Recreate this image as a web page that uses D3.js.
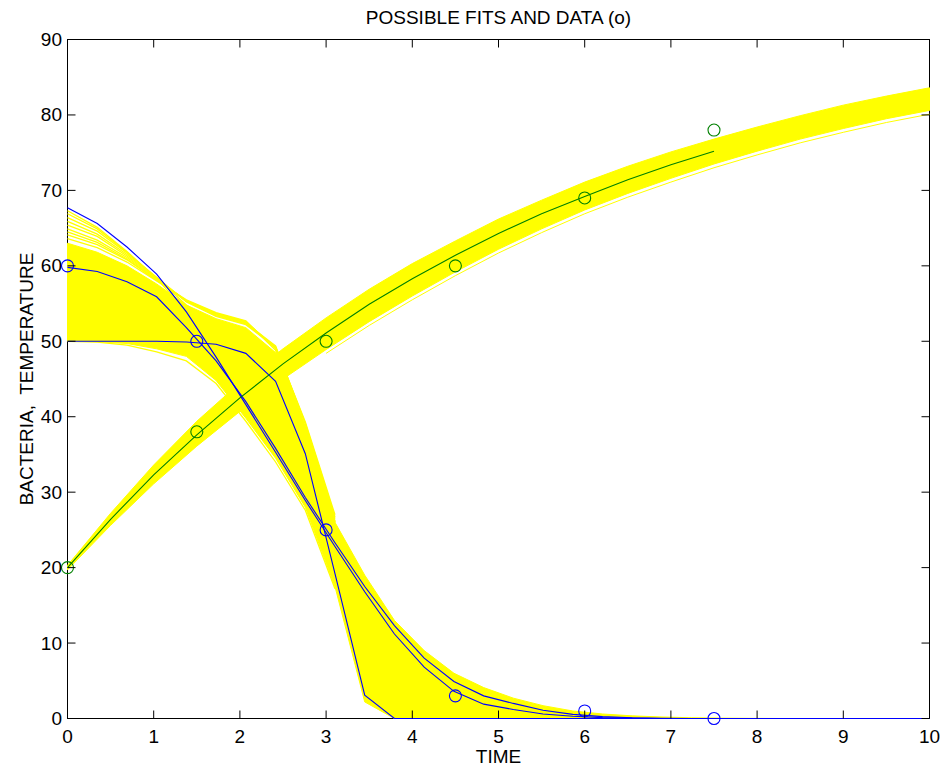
<!DOCTYPE html>
<html><head><meta charset="utf-8">
<script src="https://cdn.jsdelivr.net/npm/d3@7"></script>
<style>
body{margin:0;background:#fff;}
svg{display:block;}
text{font-family:"Liberation Sans",Arial,Helvetica,sans-serif;fill:#000;}
</style>
</head><body>
<svg id="chart" width="943" height="768"></svg>
<script>
// ---------- data ----------
const titleText = "POSSIBLE FITS AND DATA (o)";
const xLabelText = "TIME";
const yLabelText = "BACTERIA,  TEMPERATURE";
const xTicks = [0,1,2,3,4,5,6,7,8,9,10];
const yTicks = [0,10,20,30,40,50,60,70,80,90];

// observed data (circles)
const dataTime = [0, 1.5, 3, 4.5, 6, 7.5];
const bacteriaData = [60, 50, 25, 3, 1, 0];
const temperatureData = [20, 38, 50, 60, 69, 78];

// time grid of the bacteria fits
const timeGrid = [0,0.345,0.69,1.034,1.379,1.724,2.069,2.414,2.759,3.103,3.448,3.793,4.138,4.483,4.828,5.172,5.517,5.862,6.207,6.552,6.897,7.241,7.586,7.931,8.276,8.621,8.966,9.31,9.655,10];

// three blue bacteria fits
const bacteriaFitA = [67.7,65.6,62.5,58.9,53.9,47.9,41.6,35.3,28.9,22.8,16.8,11.2,6.8,3.6,1.9,1.2,0.6,0.3,0.12,0.05,0,0,0,0,0,0,0,0,0,0];
const bacteriaFitB = [59.8,59.25,57.9,55.9,51.8,47.4,42.0,35.8,29.3,23.3,17.5,12.3,8.0,4.9,3.0,2.0,1.1,0.55,0.25,0.1,0.04,0,0,0,0,0,0,0,0,0];
const bacteriaFitC = [50,50,50,50,49.9,49.6,48.4,44.7,35.1,19.2,3.1,0,0,0,0,0,0,0,0,0,0,0,0,0,0,0,0,0,0,0];

// yellow envelope of the possible bacteria fits
const bacteriaBandUpper = [63.0,61.8,60.0,57.6,54.8,53.0,51.8,48.5,38.5,26.0,19.0,13.0,9.0,6.0,4.1,2.7,1.7,1.0,0.6,0.35,0.2,0.1,0.05,0.02,0,0,0,0,0,0];
const bacteriaBandLower = [50.0,49.95,49.7,49.0,48.0,44.8,39.8,34.5,28.0,17.5,2.2,0,0,0,0,0,0,0,0,0,0,0,0,0,0,0,0,0,0,0];

// individual outer possible bacteria fits (first 10 grid points)
const bacteriaFringe1 = [67.3,65.1,61.9,58.3,54.0,49.0,43.5,37.0,30.5,24.5];
const bacteriaFringe2 = [66.9,64.9,61.8,58.4,54.8,52.2,50.5,47.0,38.0,26.0];
const bacteriaFringe3 = [66.4,64.6,61.7,58.5,55.2,53.3,52.2,49.2,39.3,27.0];
const bacteriaFringe4 = [65.9,64.2,61.5,58.4,55.3,53.4,52.3,49.3,39.1,26.7];
const bacteriaFringe5 = [65.4,63.9,61.3,58.3,55.3,53.5,52.4,49.4,39.0,26.5];
const bacteriaFringe6 = [64.9,63.4,61.1,58.2,55.3,53.6,52.5,49.2,38.6,26.2];
const bacteriaFringe7 = [64.5,63.1,60.9,58.1,55.4,53.7,52.6,49.1,38.4,26.1];
const bacteriaFringe8 = [64.1,62.8,60.8,58.1,55.4,53.7,52.6,49.0,38.2,26.0];
const bacteriaFringe9 = [63.6,62.4,60.5,58.0,55.5,53.8,52.7,48.8,37.8,25.8];
const bacteriaFringe10 = [50.0,49.9,49.5,48.6,47.4,44.4,39.4,34.0,27.6,17.2];

// green temperature fit
const tempFitTime = [0,0.5,1,1.5,2,2.5,3,3.5,4,4.5,5,5.5,6,6.5,7,7.5];
const tempFit = [20,26.4,32.3,37.6,42.5,47.0,51.1,54.9,58.3,61.4,64.3,66.9,69.2,71.4,73.4,75.2];

// yellow envelope of the possible temperature fits
const tempBandTime = [0,0.5,1,1.5,2,2.5,3,3.5,4,4.5,5,5.5,6,6.5,7,7.5,8,8.5,9,9.5,10];
const tempBandUpper = [20.3,27.2,33.6,39.4,44.5,49.0,53.1,56.9,60.3,63.3,66.2,68.7,71.1,73.2,75.1,76.8,78.4,79.9,81.3,82.5,83.6];
const tempBandLower = [19.7,25.6,31.1,36.1,40.7,45.0,48.9,52.6,56.0,59.2,62.2,64.9,67.4,69.6,71.6,73.5,75.2,76.8,78.2,79.5,80.6];
const tempFringeTime = [3,3.5,4,4.5,5,5.5,6,6.5,7,7.5,8,8.5,9,9.5,10];
const tempFringe = [48.4,52.1,55.5,58.7,61.7,64.4,66.9,69.1,71.1,73.0,74.7,76.3,77.7,79.0,80.1];

// ---------- drawing ----------
const svg = d3.select("#chart");
const x = d3.scaleLinear().domain([0,10]).range([67.5,929.5]);
const y = d3.scaleLinear().domain([0,90]).range([718.5,39.5]);
const fontSize = 19;
const tickLen = 8;
const YELLOW = "#ffff00", BLUE = "#0000ff", GREEN = "#008000";

const zip = (ts, vs) => vs.map((v,i) => [ts[i], v]);
const line = d3.line().x(d => x(d[0])).y(d => y(d[1]));

// axis box
svg.append("rect").attr("x", x(0)).attr("y", y(90)).attr("width", x(10)-x(0)).attr("height", y(0)-y(90))
  .attr("fill","none").attr("stroke","#000").attr("stroke-width",1);

// yellow bands
const bandArea = d3.area().x(d => x(d.t)).y0(d => y(d.lo)).y1(d => y(d.hi));
const bBand = timeGrid.map((t,i) => ({t, lo: bacteriaBandLower[i], hi: bacteriaBandUpper[i]}));
const tBand = tempBandTime.map((t,i) => ({t, lo: tempBandLower[i], hi: tempBandUpper[i]}));
const yel = svg.append("g");
yel.append("path").attr("d", bandArea(bBand)).attr("fill", YELLOW).attr("stroke", YELLOW).attr("stroke-width", 1);
yel.append("path").attr("d", bandArea(tBand)).attr("fill", YELLOW).attr("stroke", YELLOW).attr("stroke-width", 1);
const fringeSet = [bacteriaFringe1,bacteriaFringe2,bacteriaFringe3,bacteriaFringe4,bacteriaFringe5,
                   bacteriaFringe6,bacteriaFringe7,bacteriaFringe8,bacteriaFringe9,bacteriaFringe10];
fringeSet.forEach(f => {
  yel.append("path").attr("d", line(zip(timeGrid, f))).attr("fill","none").attr("stroke",YELLOW).attr("stroke-width",1.3);
});
yel.append("path").attr("d", line(zip(tempFringeTime, tempFringe))).attr("fill","none").attr("stroke",YELLOW).attr("stroke-width",1);

// fits
const fits = svg.append("g").attr("fill","none").attr("stroke-width",1.1);
[bacteriaFitA, bacteriaFitB, bacteriaFitC].forEach(f => {
  fits.append("path").attr("d", line(zip(timeGrid, f))).attr("stroke", BLUE);
});
fits.append("path").attr("d", line(zip(tempFitTime, tempFit))).attr("stroke", GREEN);

// data circles
const pts = svg.append("g").attr("fill","none").attr("stroke-width",1.1);
pts.selectAll("circle.b").data(zip(dataTime, bacteriaData)).join("circle").attr("class","b")
  .attr("cx", d => x(d[0])).attr("cy", d => y(d[1])).attr("r", 6).attr("stroke", BLUE);
pts.selectAll("circle.g").data(zip(dataTime, temperatureData)).join("circle").attr("class","g")
  .attr("cx", d => x(d[0])).attr("cy", d => y(d[1])).attr("r", 6).attr("stroke", GREEN);

// ticks (inward on all four sides)
const tk = svg.append("g").attr("stroke","#000").attr("stroke-width",1);
xTicks.forEach(v => {
  tk.append("line").attr("x1", x(v)).attr("x2", x(v)).attr("y1", y(0)).attr("y2", y(0)-tickLen);
  tk.append("line").attr("x1", x(v)).attr("x2", x(v)).attr("y1", y(90)).attr("y2", y(90)+tickLen);
});
yTicks.forEach(v => {
  tk.append("line").attr("x1", x(0)).attr("x2", x(0)+tickLen).attr("y1", y(v)).attr("y2", y(v));
  tk.append("line").attr("x1", x(10)).attr("x2", x(10)-tickLen).attr("y1", y(v)).attr("y2", y(v));
});

// tick labels
const lab = svg.append("g").attr("font-size", fontSize);
xTicks.forEach(v => {
  lab.append("text").attr("x", x(v)).attr("y", 743).attr("text-anchor","middle").text(v);
});
yTicks.forEach(v => {
  lab.append("text").attr("x", 62).attr("y", y(v) + 6.5).attr("text-anchor","end").text(v);
});

// title and axis labels
svg.append("text").attr("x", (x(0)+x(10))/2).attr("y", 24).attr("text-anchor","middle").attr("font-size", fontSize).text(titleText);
svg.append("text").attr("x", (x(0)+x(10))/2).attr("y", 763).attr("text-anchor","middle").attr("font-size", fontSize).text(xLabelText);
svg.append("text").attr("transform", `translate(33,${(y(0)+y(90))/2}) rotate(-90)`).attr("text-anchor","middle")
  .attr("font-size", fontSize).style("white-space","pre").text(yLabelText);
</script>
</body></html>
